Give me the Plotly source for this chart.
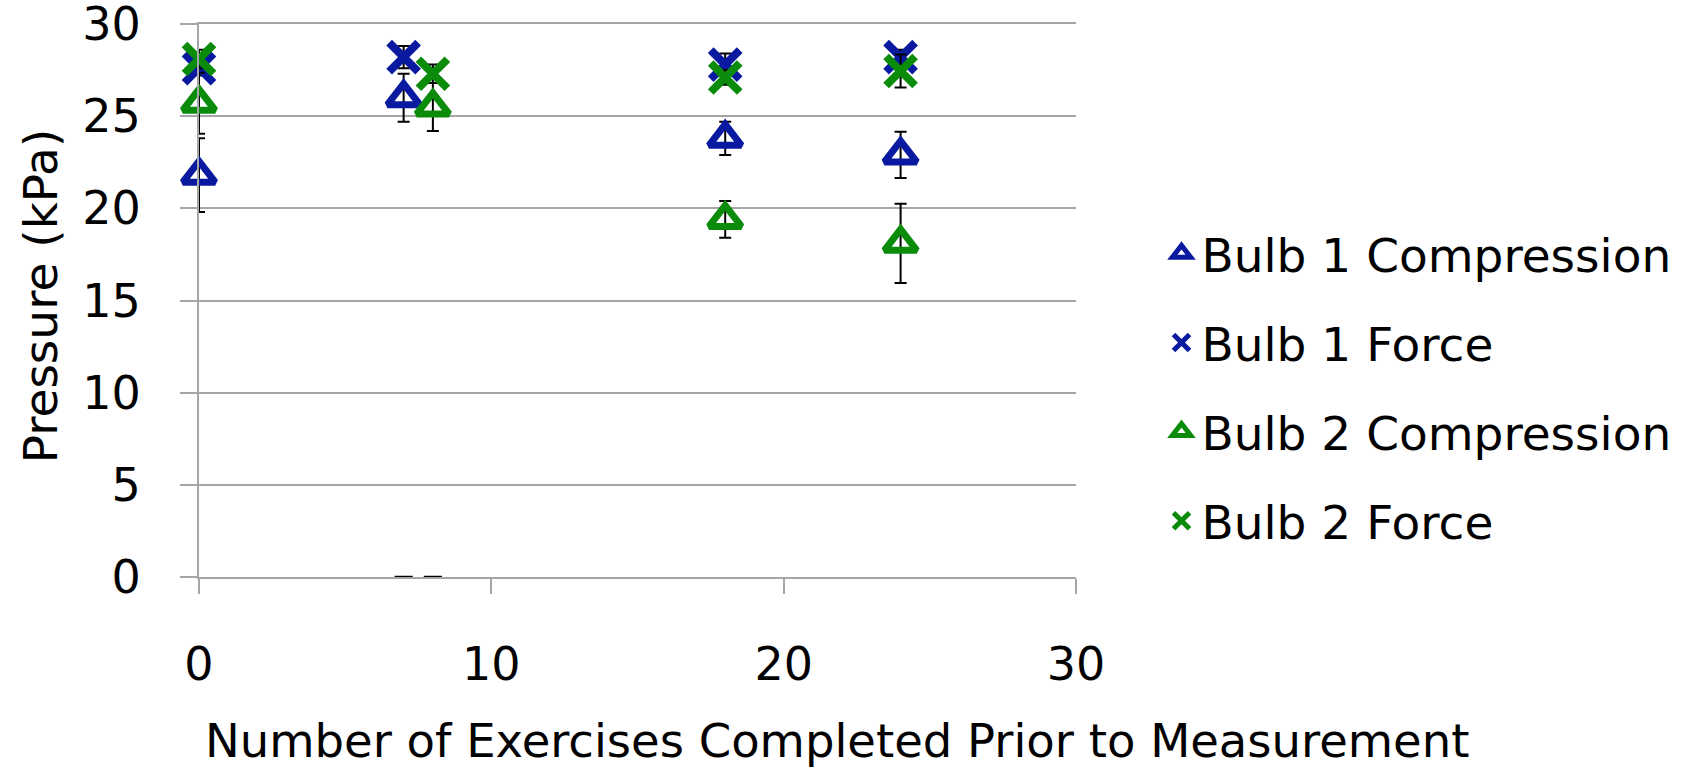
import plotly.graph_objects as go

# ---- data ----
x_bulb1 = [0, 7, 18, 24]
x_bulb2 = [0, 8, 18, 24]

b1_comp = [21.8, 26.0, 23.8, 22.9]
b1_comp_err = [2.0, 1.3, 0.9, 1.25]
b1_force = [27.6, 28.2, 27.8, 28.2]
b1_force_err = [0.4, 0.6, 0.6, 0.4]

b2_comp = [25.7, 25.5, 19.4, 18.1]
b2_comp_err = [1.65, 1.3, 1.0, 2.15]
b2_force = [28.1, 27.3, 27.1, 27.45]
b2_force_err = [0.5, 0.5, 0.4, 0.9]

zero_x = [7, 8]
zero_y = [0, 0]

series_names = ["Bulb 1 Compression", "Bulb 1 Force", "Bulb 2 Compression", "Bulb 2 Force"]
x_ticks = [0, 10, 20, 30]
y_ticks = [0, 5, 10, 15, 20, 25, 30]
x_title = "Number of Exercises Completed Prior to Measurement"
y_title = "Pressure (kPa)"

BLUE = "#0A1AA0"
GREEN = "#0A8C0A"
GRID = "#A6A6A6"
FONT = "DejaVu Sans"

fig = go.Figure()

def err(arr):
    return dict(type="data", array=arr, visible=True, color="black", thickness=2, width=6)

def tri(color):
    return dict(symbol="triangle-up-open", size=28, color=color, line=dict(color=color, width=7))

def cross(color):
    return dict(symbol="x-thin-open", size=29, color=color, line=dict(color=color, width=8))

fig.add_trace(go.Scatter(x=x_bulb1, y=b1_comp, mode="markers", name=series_names[0],
                         legendgroup="a", marker=tri(BLUE), error_y=err(b1_comp_err),
                         cliponaxis=False))
fig.add_trace(go.Scatter(x=x_bulb1, y=b1_force, mode="markers", name=series_names[1],
                         legendgroup="b", marker=cross(BLUE), error_y=err(b1_force_err),
                         cliponaxis=False))
fig.add_trace(go.Scatter(x=x_bulb2, y=b2_comp, mode="markers", name=series_names[2],
                         legendgroup="c", marker=tri(GREEN), error_y=err(b2_comp_err),
                         cliponaxis=False))
fig.add_trace(go.Scatter(x=x_bulb2, y=b2_force, mode="markers", name=series_names[3],
                         legendgroup="d", marker=cross(GREEN), error_y=err(b2_force_err),
                         cliponaxis=False))
fig.add_trace(go.Scatter(x=zero_x, y=zero_y, mode="markers", showlegend=False,
                         cliponaxis=False,
                         marker=dict(symbol="line-ew-open", size=13, color="black",
                                     line=dict(color="black", width=2.5))))

fig.update_layout(
    width=1688, height=767,
    margin=dict(l=199, r=610, t=24, b=190),
    paper_bgcolor="white", plot_bgcolor="white",
    font=dict(family=FONT, size=46, color="black"),
    showlegend=True,
    legend=dict(x=1.0975, xanchor="left", y=0.343, yanchor="middle",
                font=dict(family=FONT, size=47, color="black"),
                tracegroupgap=25, itemwidth=30, bgcolor="rgba(0,0,0,0)"),
    xaxis=dict(range=[0, 30], tickvals=x_ticks, showgrid=False, automargin=False,
               zeroline=False, showline=True, linecolor=GRID, linewidth=2, mirror=True,
               ticks="outside", ticklen=15, tickwidth=2, tickcolor=GRID,
               ticklabelstandoff=31, ticklabeloverflow="allow",
               tickfont=dict(size=46)),
    yaxis=dict(range=[0, 30], tickvals=y_ticks, showgrid=True, automargin=False,
               gridcolor=GRID, gridwidth=2, zeroline=False,
               showline=True, linecolor=GRID, linewidth=2,
               ticks="outside", ticklen=17, tickwidth=2, tickcolor=GRID,
               ticklabelstandoff=30, ticklabeloverflow="allow",
               tickfont=dict(size=46)),
    annotations=[
        dict(text=x_title, xref="paper", yref="paper", x=0.727, y=-0.296,
             xanchor="center", yanchor="middle", showarrow=False,
             font=dict(family=FONT, size=46.5, color="black")),
        dict(text=y_title, xref="paper", yref="paper", x=-0.181, y=0.508,
             xanchor="center", yanchor="middle", showarrow=False, textangle=-90,
             font=dict(family=FONT, size=47, color="black")),
    ],
)

fig.write_html("out.html", config={"displayModeBar": False},
               post_script="document.body.style.margin='0';")
